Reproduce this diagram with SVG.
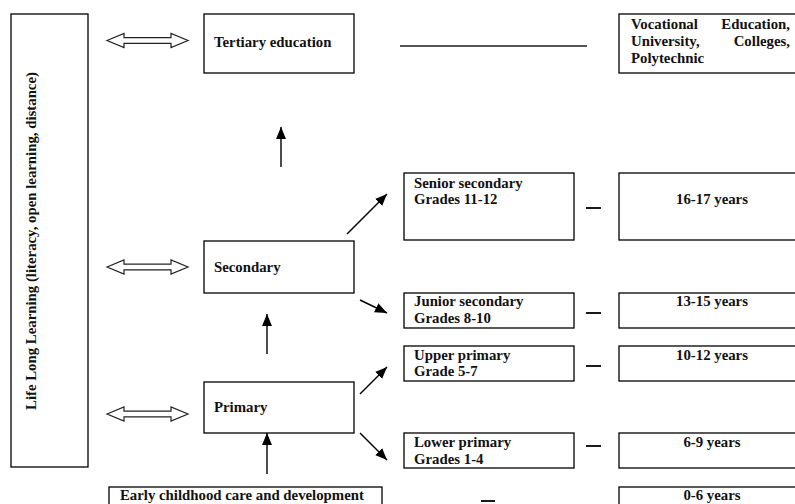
<svg xmlns="http://www.w3.org/2000/svg" width="795" height="504" viewBox="0 0 795 504">
<style>
  .box{fill:#fff;stroke:#000;stroke-width:1.3}
  .t{font-family:"Liberation Serif","Times New Roman",serif;font-weight:bold;font-size:14.8px;fill:#111}
  .c{text-anchor:middle}
  .e{text-anchor:end}
  .ln{stroke:#000;stroke-width:1.8;fill:none}
  .arr{stroke:#000;stroke-width:1.4;fill:none;marker-end:url(#ah)}
  .dbl{fill:#fff;stroke:#222;stroke-width:1.2}
</style>
<defs>
  <marker id="ah" viewBox="0 0 12 10" refX="12" refY="5" markerWidth="12" markerHeight="10" markerUnits="userSpaceOnUse" orient="auto">
    <path d="M0,0 L12,5 L0,10 z" fill="#000"/>
  </marker>
  <path id="dbl" d="M107,0 L124,-7 L124,-2.8 L171,-2.8 L171,-7 L188,0 L171,7 L171,2.8 L124,2.8 L124,7 z"/>
</defs>
<rect width="795" height="504" fill="#fff"/>

<g id="lifelong">
  <rect class="box" x="11" y="14" width="77" height="453"/>
  <text class="t c" transform="translate(36,241) rotate(-90)">Life Long Learning (literacy, open learning, distance)</text>
</g>

<g id="tertiary">
  <rect class="box" x="204" y="14" width="150" height="59"/>
  <text class="t" x="214" y="47">Tertiary education</text>
</g>
<g id="vocational">
  <rect class="box" x="619" y="14" width="190" height="59"/>
  <text class="t" x="631" y="29">Vocational</text>
  <text class="t e" x="790" y="29">Education,</text>
  <text class="t" x="631" y="46">University,</text>
  <text class="t e" x="790" y="46">Colleges,</text>
  <text class="t" x="631" y="63">Polytechnic</text>
</g>
<g id="secondary">
  <rect class="box" x="204" y="241" width="150" height="52"/>
  <text class="t" x="214" y="272">Secondary</text>
</g>
<g id="senior">
  <rect class="box" x="404" y="173" width="170" height="67"/>
  <text class="t" x="414" y="188">Senior secondary</text>
  <text class="t" x="414" y="204">Grades 11-12</text>
</g>
<g id="age1617">
  <rect class="box" x="619" y="173" width="190" height="67"/>
  <text class="t c" x="712" y="204">16-17 years</text>
</g>
<g id="junior">
  <rect class="box" x="404" y="293" width="170" height="35"/>
  <text class="t" x="414" y="306">Junior secondary</text>
  <text class="t" x="414" y="323">Grades 8-10</text>
</g>
<g id="age1315">
  <rect class="box" x="619" y="293" width="190" height="35"/>
  <text class="t c" x="712" y="306">13-15 years</text>
</g>
<g id="primary">
  <rect class="box" x="204" y="382" width="150" height="51"/>
  <text class="t" x="214" y="412">Primary</text>
</g>
<g id="upper">
  <rect class="box" x="404" y="346" width="170" height="35"/>
  <text class="t" x="414" y="360">Upper primary</text>
  <text class="t" x="414" y="376">Grade 5-7</text>
</g>
<g id="age1012">
  <rect class="box" x="619" y="346" width="190" height="35"/>
  <text class="t c" x="712" y="360">10-12 years</text>
</g>
<g id="lower">
  <rect class="box" x="404" y="433" width="170" height="35"/>
  <text class="t" x="414" y="447">Lower primary</text>
  <text class="t" x="414" y="464">Grades 1-4</text>
</g>
<g id="age69">
  <rect class="box" x="619" y="433" width="190" height="35"/>
  <text class="t c" x="712" y="447">6-9 years</text>
</g>
<g id="eccd">
  <rect class="box" x="109" y="487" width="273" height="30"/>
  <text class="t" x="120" y="500">Early childhood care and development</text>
</g>
<g id="age06">
  <rect class="box" x="619" y="487" width="190" height="30"/>
  <text class="t c" x="712" y="500">0-6 years</text>
</g>

<g id="connectors">
  <use href="#dbl" class="dbl" transform="translate(0,40.5)"/>
  <use href="#dbl" class="dbl" transform="translate(0,267)"/>
  <use href="#dbl" class="dbl" transform="translate(0,414)"/>
  <line x1="400" y1="46" x2="587" y2="46" stroke="#555" stroke-width="2"/>
  <line class="arr" x1="281" y1="167" x2="281" y2="127"/>
  <line class="arr" x1="267" y1="354" x2="267" y2="314"/>
  <line class="arr" x1="267" y1="474" x2="267" y2="433"/>
  <line class="arr" x1="347" y1="234" x2="387" y2="194"/>
  <line class="arr" x1="360" y1="300" x2="387" y2="313"/>
  <line class="arr" x1="360" y1="394" x2="387" y2="367"/>
  <line class="arr" x1="360" y1="433" x2="387" y2="460"/>
  <line class="ln" x1="586" y1="208" x2="601" y2="208"/>
  <line class="ln" x1="586" y1="313" x2="601" y2="313"/>
  <line class="ln" x1="586" y1="366" x2="601" y2="366"/>
  <line class="ln" x1="586" y1="446" x2="601" y2="446"/>
  <line class="ln" x1="481" y1="501" x2="495" y2="501"/>
</g>
</svg>
